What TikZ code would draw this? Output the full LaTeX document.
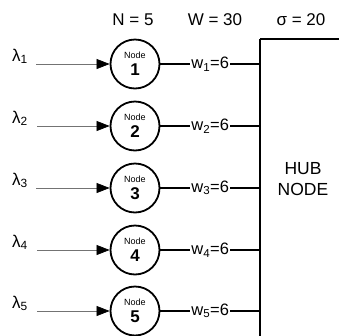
\documentclass[tikz,border=0pt]{standalone}
\usepackage{fontspec}
\setmainfont{Liberation Sans}
\usetikzlibrary{arrows.meta,positioning}

\begin{document}
\begin{tikzpicture}[x=1bp,y=-1bp,
  nodecirc/.style={circle,draw=black,line width=1.8bp,minimum size=49bp,inner sep=0pt,align=center,font=\fontsize{17bp}{15bp}\selectfont},
  inflow/.style={-{Triangle[length=13bp,width=10bp,black]},line width=.7bp,draw=black!55},
  link/.style={line width=1.8bp,draw=black},
  hubline/.style={line width=1.9bp,draw=black},
  wlabel/.style={fill=white,inner sep=1bp,font=\fontsize{16.5bp}{18bp}\selectfont},
  lamlabel/.style={anchor=base west,inner sep=0pt,font=\fontsize{17bp}{18bp}\selectfont},
  head/.style={font=\fontsize{17bp}{19bp}\selectfont}]
\useasboundingbox (0,0) rectangle (339,336);
% header
\node[head] (nhead) at (133,20) {N = 5};
\node[head] (whead) at (215,20) {W = 30};
\node[head] (shead) at (301,20) {σ = 20};
% hub
\coordinate (hubc) at (260,39);
\draw[hubline] (hubc) -- ++(90,0);
\draw[hubline] (hubc) -- ++(0,310);
\node[align=center,font=\fontsize{17.5bp}{21bp}\selectfont] (hub) at (303,179) {HUB\\NODE};
% nodes
\node[nodecirc] (n1) at (135,64) {{\fontsize{9bp}{9bp}\selectfont Node}\\[2bp]\textbf{1}};
\node[nodecirc] (n2) at (135,126) {{\fontsize{9bp}{9bp}\selectfont Node}\\[2bp]\textbf{2}};
\node[nodecirc] (n3) at (135,188) {{\fontsize{9bp}{9bp}\selectfont Node}\\[2bp]\textbf{3}};
\node[nodecirc] (n4) at (135,250) {{\fontsize{9bp}{9bp}\selectfont Node}\\[2bp]\textbf{4}};
\node[nodecirc] (n5) at (135,311) {{\fontsize{9bp}{9bp}\selectfont Node}\\[2bp]\textbf{5}};
% inputs
\node[lamlabel] (lam1) at (12,61) {λ\textsubscript{1}};
\node[lamlabel] (lam2) at (12,123) {λ\textsubscript{2}};
\node[lamlabel] (lam3) at (12,185) {λ\textsubscript{3}};
\node[lamlabel] (lam4) at (12,247) {λ\textsubscript{4}};
\node[lamlabel] (lam5) at (12,308) {λ\textsubscript{5}};
\coordinate (in1) at (36,64); \coordinate (in2) at (37,126); \coordinate (in3) at (36,188);
\coordinate (in4) at (37,250); \coordinate (in5) at (37,311);
\draw[inflow] (in1)--(n1); \draw[inflow] (in2)--(n2); \draw[inflow] (in3)--(n3);
\draw[inflow] (in4)--(n4); \draw[inflow] (in5)--(n5);
% links to hub
\draw[link] (n1) -- (n1 -| hubc) node[wlabel,midway] {w\textsubscript{1}=6};
\draw[link] (n2) -- (n2 -| hubc) node[wlabel,midway] {w\textsubscript{2}=6};
\draw[link] (n3) -- (n3 -| hubc) node[wlabel,midway] {w\textsubscript{3}=6};
\draw[link] (n4) -- (n4 -| hubc) node[wlabel,midway] {w\textsubscript{4}=6};
\draw[link] (n5) -- (n5 -| hubc) node[wlabel,midway] {w\textsubscript{5}=6};
\end{tikzpicture}
\end{document}
